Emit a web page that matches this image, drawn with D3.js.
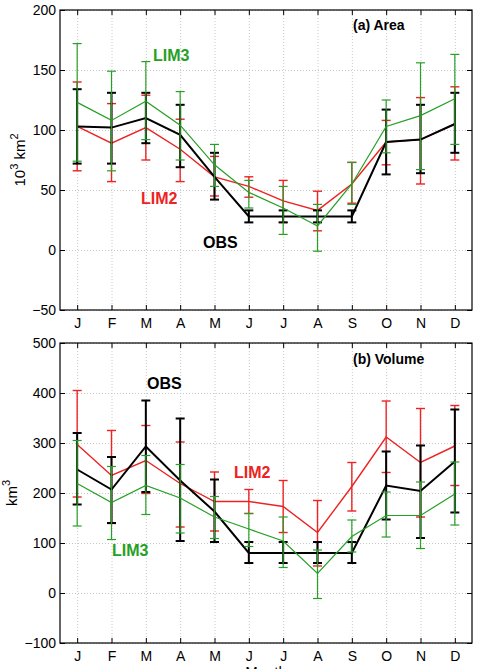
<html><head>
<script src="https://d3js.org/d3.v7.min.js"></script>
<style>
  body { margin: 0; background: #fff; }
  svg text { font-family: "Liberation Sans", Arial, Helvetica, sans-serif; }
  .gridlines line { stroke: #c8c8c8; stroke-dasharray: 1,2; }
  .gridlines .domain { stroke: none; }
  .axis .domain { stroke: none; }
  .axis line { stroke: #000; }
  .axis text { font-size: 14px; fill: #000; }
</style>
</head>
<body>
<svg id="chart" width="477" height="669"></svg>
<script>

// Month labels
const months = ["J","F","M","A","M","J","J","A","S","O","N","D"];

// (a) Area, 10^3 km^2
const areaObs    = [103, 102, 110, 96, 61, 28, 28, 28, 28, 90, 92, 105];
const areaObsLo  = [72, 72, 89, 69, 42, 23, 23, 23, 23, 63, 64, 81];
const areaObsHi  = [134, 131, 131, 121, 81, 33, 33, 33, 33, 117, 121, 131];
const areaLim2   = [103, 89, 102, 84, 61, 53, 41, 33, 55, 90, 92, 105];
const areaLim2Lo = [66, 57, 75, 57, 45, 44, 23, 16, 39, 71, 55, 75];
const areaLim2Hi = [140, 122, 129, 109, 78, 61, 58, 49, 73, 108, 127, 136];
const areaLim3   = [123, 108, 124, 104, 71, 48, 35, 20, 55, 103, 112, 126];
const areaLim3Lo = [74, 66, 92, 75, 53, 35, 13, -1, 38, 81, 67, 88];
const areaLim3Hi = [172, 149, 157, 132, 88, 58, 53, 38, 73, 125, 156, 163];
const areaTicks  = [-50, 0, 50, 100, 150, 200];

// (b) Volume, km^3
const volObs    = [247, 207, 293, 225, 163, 80, 80, 80, 80, 215, 204, 263];
const volObsLo  = [177, 140, 202, 104, 102, 60, 60, 60, 60, 147, 110, 161];
const volObsHi  = [320, 272, 385, 349, 227, 102, 102, 102, 102, 283, 295, 367];
const volLim2   = [297, 235, 265, 219, 183, 183, 173, 121, 213, 312, 261, 294];
const volLim2Lo = [192, 139, 199, 132, 124, 159, 121, 54, 164, 241, 152, 215];
const volLim2Hi = [405, 325, 335, 302, 242, 207, 225, 185, 261, 384, 369, 375];
const volLim3   = [219, 181, 215, 190, 152, 128, 104, 39, 113, 155, 155, 198];
const volLim3Lo = [134, 107, 157, 120, 109, 93, 51, -11, 82, 112, 89, 136];
const volLim3Hi = [305, 253, 275, 257, 193, 159, 152, 86, 146, 202, 222, 262];
const volTicks  = [-100, 0, 100, 200, 300, 400, 500];

const RED = "#ee2222";
const GREEN = "#25a025";
const BLACK = "#000";

const svg = d3.select("svg#chart");
const left = 60, right = 472;

const xScale = d3.scaleLinear().domain([0.5, 12.5]).range([left, right]);
const monthIdx = d3.range(1, 13);

function panel(top, bottom, yDomain, yTicks, series, labels) {
  const y = d3.scaleLinear().domain(yDomain).range([bottom, top]);
  const h = bottom - top, w = right - left;
  const g = svg.append("g");

  // gridlines
  g.append("g").attr("class", "gridlines")
    .attr("transform", "translate(" + left + ",0)")
    .call(d3.axisLeft(y).tickValues(yTicks).tickSize(-w).tickFormat(""));
  g.append("g").attr("class", "gridlines")
    .attr("transform", "translate(0," + bottom + ")")
    .call(d3.axisBottom(xScale).tickValues(monthIdx).tickSize(-h).tickFormat(""));

  // axes, ticks pointing inward on all four sides
  g.append("g").attr("class", "axis")
    .attr("transform", "translate(" + left + ",0)")
    .call(d3.axisLeft(y).tickValues(yTicks).tickSizeInner(-5).tickSizeOuter(0).tickPadding(4)
      .tickFormat(d => d < 0 ? "\u2212" + Math.abs(d) : d));
  g.append("g").attr("class", "axis")
    .attr("transform", "translate(" + right + ",0)")
    .call(d3.axisRight(y).tickValues(yTicks).tickSizeInner(-5).tickSizeOuter(0).tickFormat(""));
  g.append("g").attr("class", "axis")
    .attr("transform", "translate(0," + bottom + ")")
    .call(d3.axisBottom(xScale).tickValues(monthIdx).tickSizeInner(-5).tickSizeOuter(0).tickPadding(8)
      .tickFormat(d => months[d - 1]));
  g.append("g").attr("class", "axis")
    .attr("transform", "translate(0," + top + ")")
    .call(d3.axisTop(xScale).tickValues(monthIdx).tickSizeInner(-5).tickSizeOuter(0).tickFormat(""));

  // series with error bars
  series.forEach(s => {
    const sg = g.append("g");
    const line = d3.line().x((d, i) => xScale(i + 1)).y(d => y(d));
    monthIdx.forEach((m, i) => {
      const cx = xScale(m);
      sg.append("line").attr("x1", cx).attr("x2", cx)
        .attr("y1", y(s.lo[i])).attr("y2", y(s.hi[i]))
        .attr("stroke", s.color).attr("stroke-width", s.width);
      [s.lo[i], s.hi[i]].forEach(v => {
        sg.append("line").attr("x1", cx - 4.5).attr("x2", cx + 4.5)
          .attr("y1", y(v)).attr("y2", y(v))
          .attr("stroke", s.color).attr("stroke-width", s.width);
      });
    });
    sg.append("path").datum(s.mid).attr("d", line)
      .attr("fill", "none").attr("stroke", s.color).attr("stroke-width", s.width);
  });

  // frame
  g.append("rect").attr("x", left).attr("y", top).attr("width", w).attr("height", h)
    .attr("fill", "none").attr("stroke", "#000").attr("stroke-width", 1.2);

  labels.forEach(l => {
    g.append("text").attr("x", l.x).attr("y", l.y)
      .attr("font-size", l.size).attr("font-weight", "bold")
      .attr("fill", l.color).text(l.text);
  });
  return y;
}

panel(10, 310, [-50, 200], areaTicks, [
  {mid: areaLim2, lo: areaLim2Lo, hi: areaLim2Hi, color: RED, width: 1.4},
  {mid: areaObs, lo: areaObsLo, hi: areaObsHi, color: BLACK, width: 2},
  {mid: areaLim3, lo: areaLim3Lo, hi: areaLim3Hi, color: GREEN, width: 1.2}
], [
  {text: "(a) Area", x: 353, y: 30, size: 14, color: BLACK},
  {text: "LIM3", x: 153, y: 61, size: 16, color: GREEN},
  {text: "LIM2", x: 141, y: 204, size: 16, color: RED},
  {text: "OBS", x: 203, y: 248, size: 16, color: BLACK}
]);

panel(343, 643, [-100, 500], volTicks, [
  {mid: volLim2, lo: volLim2Lo, hi: volLim2Hi, color: RED, width: 1.4},
  {mid: volObs, lo: volObsLo, hi: volObsHi, color: BLACK, width: 2},
  {mid: volLim3, lo: volLim3Lo, hi: volLim3Hi, color: GREEN, width: 1.2}
], [
  {text: "(b) Volume", x: 353, y: 364, size: 14, color: BLACK},
  {text: "OBS", x: 147, y: 389, size: 16, color: BLACK},
  {text: "LIM2", x: 234, y: 478, size: 16, color: RED},
  {text: "LIM3", x: 112, y: 556, size: 16, color: GREEN}
]);

// axis titles
const yl1 = svg.append("text").attr("transform", "translate(25,160) rotate(-90)")
  .attr("text-anchor", "middle").attr("font-size", 15);
yl1.append("tspan").text("10");
yl1.append("tspan").attr("font-size", 11).attr("dy", -7).text("3");
yl1.append("tspan").attr("dy", 7).text(" km");
yl1.append("tspan").attr("font-size", 11).attr("dy", -7).text("2");

const yl2 = svg.append("text").attr("transform", "translate(17,493) rotate(-90)")
  .attr("text-anchor", "middle").attr("font-size", 15);
yl2.append("tspan").text("km");
yl2.append("tspan").attr("font-size", 11).attr("dy", -7).text("3");

svg.append("text").attr("x", 266).attr("y", 677).attr("text-anchor", "middle")
  .attr("font-size", 15).text("Month");

</script>
</body>
</html>
